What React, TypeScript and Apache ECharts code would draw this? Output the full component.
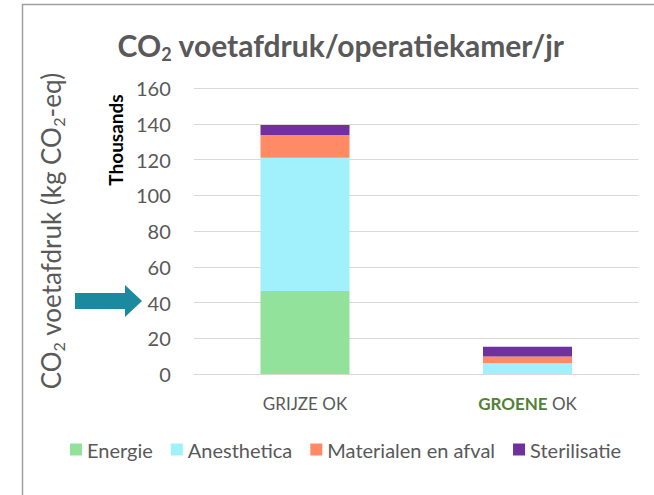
import React, { useEffect, useRef } from "react";
import * as echarts from "echarts";

const categories = ["GRIJZE OK", "GROENE OK"];
const energie = [46500, 0];
const anesthetica = [74500, 6000];
const materialen = [12700, 3800];
const sterilisatie = [5600, 5500];
const seriesNames = ["Energie", "Anesthetica", "Materialen en afval", "Sterilisatie"];
const colors = ["#93E29C", "#A0F1FC", "#FF8A65", "#7030A0"];

const FONT = "Lato, 'Open Sans', sans-serif";

export default function App() {
  const ref = useRef<HTMLDivElement>(null);
  useEffect(() => {
    document.body.style.margin = "0";
    const chart = echarts.init(ref.current!, null, { renderer: "svg" });
    const data = [energie, anesthetica, materialen, sterilisatie];
    chart.setOption({
      animation: false,
      backgroundColor: "#ffffff",
      textStyle: { fontFamily: FONT },
      grid: { left: 193.75, right: 15.25, top: 88, bottom: 121 },
      legend: {
        left: 70,
        top: 439.5,
        padding: 0,
        icon: "rect",
        itemWidth: 12,
        itemHeight: 12,
        itemGap: 18,
        textStyle: { fontSize: 20, color: "#595959", fontFamily: FONT },
        data: seriesNames,
      },
      xAxis: {
        type: "category",
        data: categories,
        axisTick: { show: false },
        axisLine: { lineStyle: { color: "#d9d9d9", width: 1 } },
        axisLabel: {
          margin: 21,
          fontSize: 17,
          color: "#595959",
          fontFamily: FONT,
          formatter: (v: string) =>
            v === "GROENE OK" ? "{g|GROENE}{n| OK}" : "{n|" + v + "}",
          rich: {
            g: { fontSize: 17, fontWeight: "bold", color: "#538135", fontFamily: FONT },
            n: { fontSize: 17, color: "#595959", fontFamily: FONT },
          },
        },
      },
      yAxis: {
        type: "value",
        min: 0,
        max: 160000,
        interval: 20000,
        axisLine: { show: false },
        axisTick: { show: false },
        splitLine: { lineStyle: { color: "#d9d9d9", width: 1 } },
        axisLabel: {
          margin: 23,
          fontSize: 20,
          color: "#595959",
          fontFamily: FONT,
          formatter: (v: number) => String(v / 1000),
        },
      },
      series: seriesNames.map((name, i) => ({
        name,
        type: "bar",
        stack: "total",
        barWidth: "40%",
        itemStyle: { color: colors[i] },
        data: data[i],
      })),
      graphic: [
        {
          type: "rect",
          shape: { x: 22.5, y: 4.5, width: 700, height: 600 },
          style: { fill: "none", stroke: "#a0a0a0", lineWidth: 1.5 },
          silent: true,
        },
        {
          type: "text",
          x: 341,
          y: 45,
          style: {
            text: "CO{s|2} voetafdruk/operatiekamer/jr",
            fontSize: 30,
            fontWeight: "bold",
            fontFamily: FONT,
            fill: "#595959",
            align: "center",
            verticalAlign: "middle",
            lineHeight: 36,
            rich: {
              s: {
                fontSize: 18,
                fontWeight: "bold",
                fontFamily: FONT,
                fill: "#595959",
                verticalAlign: "bottom",
                lineHeight: 18,
              },
            },
          },
        },
        {
          type: "text",
          x: 51,
          y: 231,
          rotation: Math.PI / 2,
          style: {
            text: "CO{s|2} voetafdruk (kg CO{s|2}-eq)",
            fontSize: 26,
            fontFamily: FONT,
            fill: "#595959",
            align: "center",
            verticalAlign: "middle",
            lineHeight: 31,
            rich: {
              s: {
                fontSize: 16,
                fontFamily: FONT,
                fill: "#595959",
                verticalAlign: "bottom",
                lineHeight: 16,
              },
            },
          },
        },
        {
          type: "text",
          x: 115,
          y: 140,
          rotation: Math.PI / 2,
          style: {
            text: "Thousands",
            fontSize: 19,
            fontWeight: "bold",
            fontFamily: FONT,
            fill: "#000000",
            align: "center",
            verticalAlign: "middle",
          },
        },
        {
          type: "polygon",
          shape: {
            points: [
              [75, 293],
              [125, 293],
              [125, 285],
              [142, 301],
              [125, 317],
              [125, 309],
              [75, 309],
            ],
          },
          style: { fill: "#1C8A9E" },
        },
      ],
    });
    return () => chart.dispose();
  }, []);
  return <div ref={ref} style={{ width: 654, height: 495 }} />;
}
